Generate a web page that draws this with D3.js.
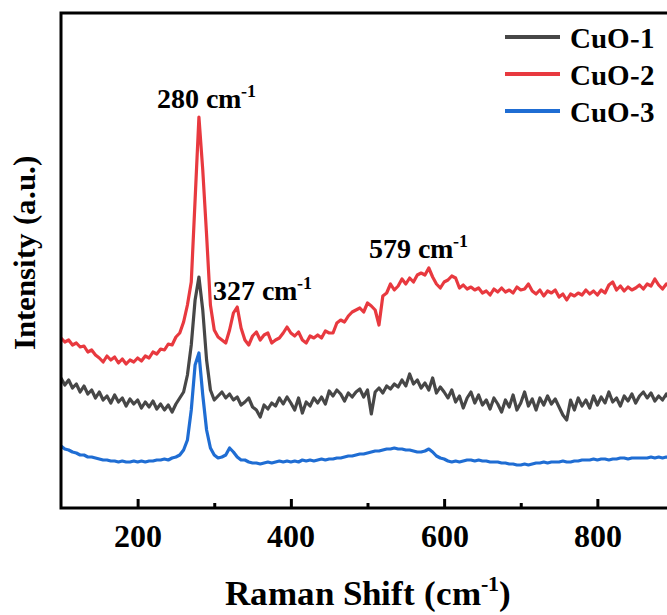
<!DOCTYPE html>
<html>
<head>
<meta charset="UTF-8">
<script src="https://cdn.jsdelivr.net/npm/d3@7/dist/d3.min.js"></script>
<style>
  @font-face {
    font-family: "ChartSerif";
    src: local("Liberation Serif Bold"), local("LiberationSerif-Bold"), local("Tinos Bold");
    font-weight: bold;
  }
  svg text { font-family: "ChartSerif", "Liberation Serif", serif; font-weight: bold; }
</style>
</head>
<body style="margin:0">
<svg id="chart" width="667" height="615"></svg>
<script>
// spectrometer grid, 100-900 cm-1 in 5 cm-1 steps
const ramanShift = d3.range(100, 901, 5);

// intensities (a.u.), one value per grid point
const cuo1 = [
  130,123,128,120,124,116,122,114,118,110,116,108,112,105,113,106,110,102,109,104,
  108,100,106,101,107,99,104,98,103,96,104,110,116,133,163,208,231,198,148,118,
  108,112,116,110,114,108,111,103,106,110,101,98,91,103,99,105,102,110,104,111,
  105,98,110,95,106,102,110,105,111,104,117,112,118,114,107,115,111,116,119,111,
  118,94,116,120,115,122,119,124,121,128,122,134,124,128,120,125,118,130,115,121,
  116,110,118,106,112,100,110,116,105,113,103,108,99,110,104,96,108,101,113,98,
  105,116,102,109,98,110,103,112,104,109,101,93,88,108,98,110,102,108,100,112,
  103,111,105,116,106,110,102,112,107,114,105,112,116,110,115,107,112,108,114,108,
  111
];
const cuo2 = [
  170,166,168,163,165,161,162,156,158,153,150,146,152,148,151,145,149,144,148,146,
  150,147,152,150,156,154,159,158,164,163,171,175,186,203,226,308,391,338,273,203,
  178,171,168,165,178,195,201,180,168,163,172,176,168,173,175,165,168,170,175,181,
  175,172,176,168,165,172,170,173,170,177,175,175,185,188,186,192,196,198,200,196,
  205,202,198,183,212,215,224,218,222,229,224,230,226,233,235,233,240,231,224,220,
  226,228,232,230,220,223,219,221,218,220,215,217,213,219,216,220,216,218,215,221,
  218,219,224,217,214,218,212,217,215,218,211,214,208,214,212,215,213,218,214,217,
  213,218,215,223,226,218,222,217,221,218,220,223,219,224,222,229,223,219,224,221,
  223
];
const cuo3 = [
  62,59,58,56,55,53,53,51,51,50,49,48,48,47,47,46,47,46,46,47,
  46,47,46,47,47,48,48,49,48,50,51,53,58,68,98,143,155,113,78,60,
  53,50,51,53,60,56,51,48,48,46,45,45,44,45,46,45,46,47,46,47,
  46,47,46,48,47,48,47,48,49,48,49,49,50,50,51,52,52,53,54,54,
  55,56,57,57,58,59,59,60,59,59,58,58,57,56,56,57,59,56,52,50,
  49,47,46,47,46,47,48,48,47,48,47,47,46,46,46,45,45,44,44,43,
  43,44,43,44,45,45,46,45,46,46,46,47,46,46,47,47,48,48,48,49,
  48,49,49,48,49,49,50,50,49,50,50,50,50,50,51,50,51,50,51,50,
  51
];

const seriesNames = ["CuO-1", "CuO-2", "CuO-3"];
const seriesColors = ["#474747", "#e8393f", "#1f6dd3"];
const majorTicks = [200, 400, 600, 800];
const minorTicks = [300, 500, 700];
const peakLabels = ["280", "327", "579"];
const peakShift = [280, 327, 579];

const serif = "ChartSerif, 'Liberation Serif', serif";
const svg = d3.select("#chart");
const plotLeft = 61, plotTop = 13, plotBottom = 508, plotRight = 674;

const x = d3.scaleLinear().domain([100, 900]).range([plotLeft, plotRight]);
const y = d3.scaleLinear().domain([0, 495]).range([plotBottom, plotTop]);

svg.append("clipPath").attr("id", "plot")
  .append("rect")
  .attr("x", plotLeft).attr("y", plotTop)
  .attr("width", plotRight - plotLeft).attr("height", plotBottom - plotTop);

// spectra
const line = d3.line()
  .x((d, i) => x(ramanShift[i]))
  .y(d => y(d));

svg.append("g").attr("clip-path", "url(#plot)")
  .selectAll("path")
  .data([cuo1, cuo2, cuo3])
  .join("path")
  .attr("d", line)
  .attr("fill", "none")
  .attr("stroke", (d, i) => seriesColors[i])
  .attr("stroke-width", 3.2)
  .attr("stroke-linejoin", "round");

// axes, ticks pointing inward
const xAxis = svg.append("g")
  .attr("transform", `translate(0,${plotBottom})`)
  .call(d3.axisBottom(x).tickValues(majorTicks).tickSizeInner(-9).tickSizeOuter(0).tickPadding(16));
xAxis.attr("font-family", null).attr("font-size", null);
xAxis.select(".domain").remove();
xAxis.selectAll("line").attr("stroke", "#000").attr("stroke-width", 3);
xAxis.selectAll("text")
  .attr("font-size", 32)
  .attr("fill", "#000");

const xMinor = svg.append("g")
  .attr("transform", `translate(0,${plotBottom})`)
  .call(d3.axisBottom(x).tickValues(minorTicks).tickSizeInner(-5).tickSizeOuter(0).tickFormat(""));
xMinor.attr("font-family", null).attr("font-size", null);
xMinor.select(".domain").remove();
xMinor.selectAll("line").attr("stroke", "#000").attr("stroke-width", 3);

// frame
svg.append("rect")
  .attr("x", plotLeft).attr("y", plotTop)
  .attr("width", plotRight - plotLeft).attr("height", plotBottom - plotTop)
  .attr("fill", "none")
  .attr("stroke", "#000")
  .attr("stroke-width", 3);

// peak annotations
const labelOffsets = [[-42, 108], [-22, 300], [-59, 258]];
peakLabels.forEach((p, i) => {
  const t = svg.append("text")
    .attr("x", x(peakShift[i]) + labelOffsets[i][0])
    .attr("y", labelOffsets[i][1])
    .attr("font-size", 28)
    .attr("fill", "#000");
  t.append("tspan").text(p + " cm");
  t.append("tspan").attr("dy", -11).attr("font-size", 18).text("-1");
});

// legend
const legend = svg.append("g").selectAll("g")
  .data(seriesNames)
  .join("g")
  .attr("transform", (d, i) => `translate(505,${37 + i * 37})`);
legend.append("line")
  .attr("x1", 0).attr("x2", 55)
  .attr("stroke", (d, i) => seriesColors[i])
  .attr("stroke-width", 4);
legend.append("text")
  .attr("x", 65).attr("y", 11)
  .attr("font-size", 29)
  .attr("fill", "#000")
  .text(d => d);

// axis titles
const xt = svg.append("text")
  .attr("x", (plotLeft + plotRight) / 2).attr("y", 605)
  .attr("text-anchor", "middle")
  .attr("font-size", 35)
  .attr("fill", "#000");
xt.append("tspan").text("Raman Shift (cm");
xt.append("tspan").attr("dy", -14).attr("font-size", 22).text("-1");
xt.append("tspan").attr("dy", 14).text(")");

svg.append("text")
  .attr("transform", "rotate(-90)")
  .attr("x", -253).attr("y", 35)
  .attr("text-anchor", "middle")
  .attr("font-size", 31)
  .attr("fill", "#000")
  .text("Intensity (a.u.)");

svg.selectAll("text")
  .style("font-family", serif)
  .style("font-weight", "bold");
</script>
</body>
</html>
